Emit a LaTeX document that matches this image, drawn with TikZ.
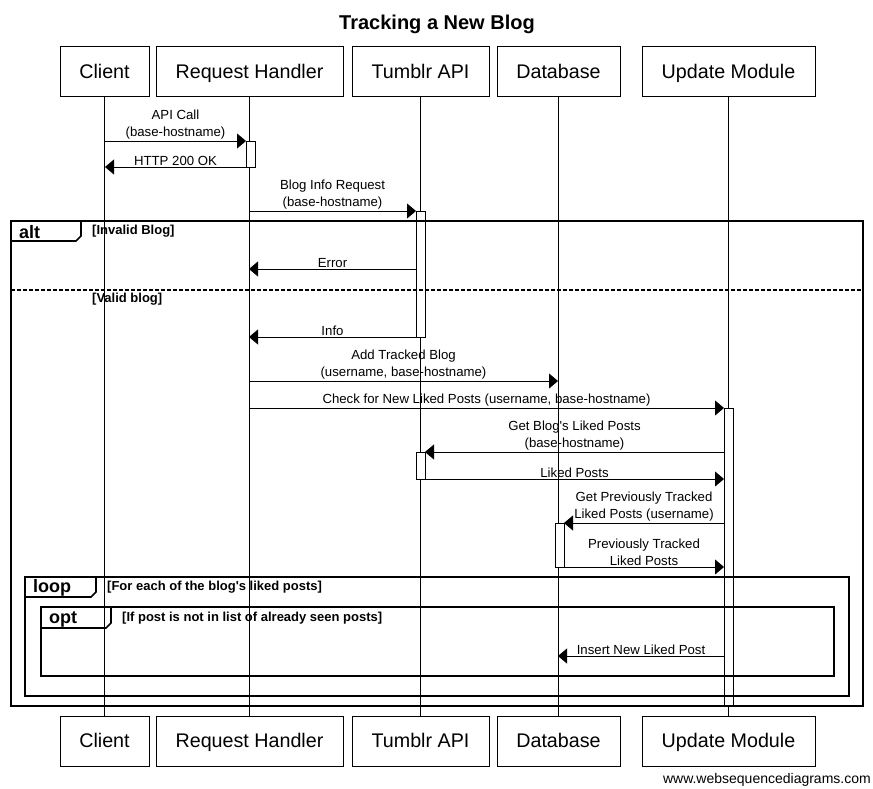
\documentclass[tikz,border=0pt]{standalone}
\usepackage{fontspec}
\setmainfont{Liberation Sans}[Ligatures=TeXOff]
\usetikzlibrary{arrows.meta}
\begin{document}
\begin{tikzpicture}[x=1pt,y=-1pt,
 actor/.style={draw,line width=1pt,minimum height=50pt,inner sep=0pt,text height=15.5pt,text depth=2.5pt,font=\fontsize{19.7}{22}\selectfont},
 life/.style={line width=0.8pt},
 act/.style={draw,fill=white,line width=0.8pt},
 msg/.style={line width=0.8pt,-{Triangle[length=9pt,width=15pt]}},
 lbl/.style={font=\fontsize{13.2}{17}\selectfont,align=center,inner sep=0pt,anchor=south,yshift=1pt},
 frame/.style={draw,line width=1.6pt},
 tab/.style={font=\bfseries\fontsize{18}{20}\selectfont,anchor=west,inner sep=0pt},
 guard/.style={font=\bfseries\fontsize{13}{15}\selectfont,anchor=west,inner sep=0pt}]
\useasboundingbox (0,0) rectangle (873,789);
\node[font=\bfseries\fontsize{20}{23}\selectfont] (title) at (437,24.5) {Tracking a New Blog};
% actors top
\node[actor,minimum width=89pt] (cT) at (104.5,72) {Client};
\node[actor,minimum width=187pt] (rT) at (249.5,72) {Request Handler};
\node[actor,minimum width=137pt] (tT) at (420.5,72) {Tumblr API};
\node[actor,minimum width=123pt] (dT) at (558.5,72) {Database};
\node[actor,minimum width=173pt] (uT) at (728.5,72) {Update Module};
% actors bottom
\node[actor,minimum width=89pt] (cB) at (104.5,741) {Client};
\node[actor,minimum width=187pt] (rB) at (249.5,741) {Request Handler};
\node[actor,minimum width=137pt] (tB) at (420.5,741) {Tumblr API};
\node[actor,minimum width=123pt] (dB) at (558.5,741) {Database};
\node[actor,minimum width=173pt] (uB) at (728.5,741) {Update Module};
% lifelines
\draw[life] (cT) -- (cB);
\draw[life] (rT) -- (rB);
\draw[life] (tT) -- (tB);
\draw[life] (dT) -- (dB);
\draw[life] (uT) -- (uB);
% activations
\draw[act] (246,141) rectangle (255,167);
\draw[act] (416,211) rectangle (425,337);
\draw[act] (724,408) rectangle (733,705);
\draw[act] (416,452) rectangle (425,479);
\draw[act] (555,523) rectangle (564,567);
% frames
\draw[frame] (11,221) rectangle (863,706);
\draw[frame] (11,241) -- (76,241) -- (81,236) -- (81,221);
\node[tab] (altT) at (19,232.5) {alt};
\node[guard] (g1) at (92,231.5) {[Invalid Blog]};
\draw[line width=1.6pt,dash pattern=on 4pt off 2pt] (11,290) -- (863,290);
\node[guard] (g2) at (92,299.5) {[Valid blog]};
\draw[frame] (25,577) rectangle (849,696);
\draw[frame] (25,597) -- (91,597) -- (96,592) -- (96,577);
\node[tab] (loopT) at (33,588) {loop};
\node[guard] (g3) at (107,587.5) {[For each of the blog's liked posts]};
\draw[frame] (41,607) rectangle (834,676);
\draw[frame] (41,628) -- (106,628) -- (111,623) -- (111,607);
\node[tab] (optT) at (49,619) {opt};
\node[guard] (g4) at (122,618.5) {[If post is not in list of already seen posts]};
% messages
\coordinate (m1s) at (105,141); \coordinate (m1e) at (246,141);
\draw[msg] (m1s) -- node[lbl] {API Call\\(base-hostname)} (m1e);
\coordinate (m2s) at (246,167); \coordinate (m2e) at (105,167);
\draw[msg] (m2s) -- node[lbl] {HTTP 200 OK} (m2e);
\coordinate (m3s) at (249,211); \coordinate (m3e) at (416,211);
\draw[msg] (m3s) -- node[lbl] {Blog Info Request\\(base-hostname)} (m3e);
\coordinate (m4s) at (416,269); \coordinate (m4e) at (249,269);
\draw[msg] (m4s) -- node[lbl] {Error} (m4e);
\coordinate (m5s) at (416,337); \coordinate (m5e) at (249,337);
\draw[msg] (m5s) -- node[lbl] {Info} (m5e);
\coordinate (m6s) at (249,381); \coordinate (m6e) at (558,381);
\draw[msg] (m6s) -- node[lbl] {Add Tracked Blog\\(username, base-hostname)} (m6e);
\coordinate (m7s) at (249,408); \coordinate (m7e) at (724,408);
\draw[msg] (m7s) -- node[lbl] {Check for New Liked Posts (username, base-hostname)} (m7e);
\coordinate (m8s) at (724,452); \coordinate (m8e) at (425,452);
\draw[msg] (m8s) -- node[lbl] {Get Blog's Liked Posts\\(base-hostname)} (m8e);
\coordinate (m9s) at (425,479); \coordinate (m9e) at (724,479);
\draw[msg] (m9s) -- node[lbl] {Liked Posts} (m9e);
\coordinate (m10s) at (724,523); \coordinate (m10e) at (564,523);
\draw[msg] (m10s) -- node[lbl] {Get Previously Tracked\\Liked Posts (username)} (m10e);
\coordinate (m11s) at (564,567); \coordinate (m11e) at (724,567);
\draw[msg] (m11s) -- node[lbl] {Previously Tracked\\Liked Posts} (m11e);
\coordinate (m12s) at (724,656); \coordinate (m12e) at (558,656);
\draw[msg] (m12s) -- node[lbl] {Insert New Liked Post} (m12e);
% footer
\node[anchor=east,inner sep=0pt,font=\fontsize{14}{16}\selectfont] (foot) at (871,780) {www.websequencediagrams.com};
\end{tikzpicture}
\end{document}
